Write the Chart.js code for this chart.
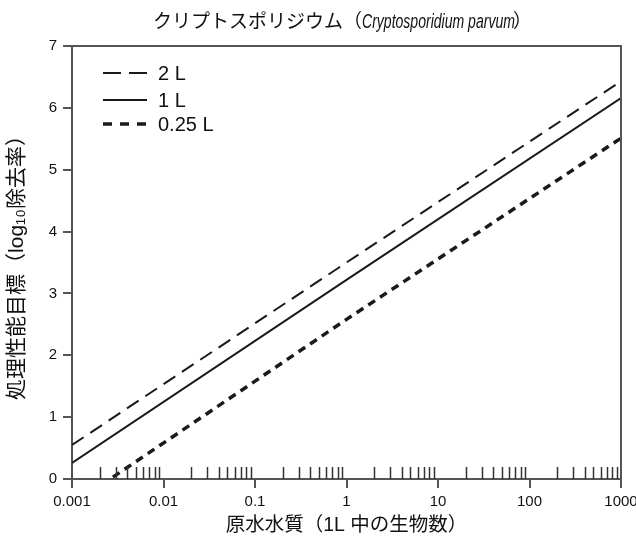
<!DOCTYPE html>
<html lang="ja">
<head>
<meta charset="utf-8">
<script src="https://cdn.jsdelivr.net/npm/chart.js@4.4.1/dist/chart.umd.min.js"></script>
<style>
  html, body { margin: 0; padding: 0; background: #ffffff; }
  #wrap { position: relative; width: 636px; height: 541px; }
  #title {
    position: absolute; left: 153px; top: 7px; text-align: left;
    font-family: 'Noto Sans CJK JP', 'Liberation Sans', sans-serif;
    font-size: 19px; color: #111; line-height: 26px; white-space: nowrap;
  }
  #title .species {
    display: inline-block; width: 151px; white-space: nowrap;
    font-family: 'Liberation Sans', sans-serif; font-style: italic; font-size: 19.5px;
    transform: scaleX(0.72); transform-origin: left center;
  }
  canvas { position: absolute; left: 0; top: 0; }
</style>
</head>
<body>
<div id="wrap">
  <canvas id="chart" width="636" height="541"></canvas>
  <div id="title">クリプトスポリジウム（<span class="species">Cryptosporidium parvum</span>）</div>
</div>
<script>
// Sample volumes shown in the legend
const volumeLabels = ['2 L', '1 L', '0.25 L'];

// Source-water concentration (organisms per litre) and log10 removal target
const conc2L = [0.001, 1, 1000];
const target2L = [0.55, 3.50, 6.43];

const conc1L = [0.001, 1, 1000];
const target1L = [0.26, 3.22, 6.16];

const conc025L = [0.0028, 1, 1000];
const target025L = [0.03, 2.58, 5.51];

// Axis ticks
const xTickValues = [0.001, 0.01, 0.1, 1, 10, 100, 1000];
const xTickLabels = ['0.001', '0.01', '0.1', '1', '10', '100', '1000'];
const yTickValues = [0, 1, 2, 3, 4, 5, 6, 7];

const FONT = "'Liberation Sans', 'Noto Sans CJK JP', sans-serif";
const AXIS_COLOR = '#555555';
const INK = '#1a1a1a';

function pts(xs, ys) { return xs.map((x, i) => ({ x: x, y: ys[i] })); }

// Frame on the top and right of the plot area
const framePlugin = {
  id: 'frame',
  afterDraw(chart) {
    const { ctx, chartArea: a } = chart;
    ctx.save();
    ctx.strokeStyle = AXIS_COLOR;
    ctx.lineWidth = 2;
    ctx.beginPath();
    ctx.moveTo(a.left, a.top);
    ctx.lineTo(a.right, a.top);
    ctx.lineTo(a.right, a.bottom);
    ctx.stroke();
    ctx.restore();
  }
};

// Minor log ticks pointing up into the plot from the x axis
const minorTickPlugin = {
  id: 'minorTicks',
  afterDatasetsDraw(chart) {
    const { ctx, chartArea: a } = chart;
    const xs = chart.scales.x;
    ctx.save();
    ctx.strokeStyle = '#333333';
    ctx.lineWidth = 1.5;
    for (let i = 0; i < xTickValues.length - 1; i++) {
      for (let m = 2; m <= 9; m++) {
        const px = Math.round(xs.getPixelForValue(m * xTickValues[i])) + 0.5;
        ctx.beginPath();
        ctx.moveTo(px, a.bottom);
        ctx.lineTo(px, a.bottom - 12);
        ctx.stroke();
      }
    }
    ctx.restore();
  }
};

// Legend drawn inside the plot area, top-left
const insideLegendPlugin = {
  id: 'insideLegend',
  afterDraw(chart) {
    const { ctx, chartArea: a } = chart;
    const rows = [27, 54, 78];
    ctx.save();
    chart.data.datasets.forEach((ds, i) => {
      const y = a.top + rows[i];
      ctx.strokeStyle = ds.borderColor;
      ctx.lineWidth = ds.borderWidth;
      ctx.setLineDash(ds.legendDash);
      ctx.beginPath();
      ctx.moveTo(a.left + 31, y);
      ctx.lineTo(a.left + 75, y);
      ctx.stroke();
      ctx.setLineDash([]);
      ctx.fillStyle = '#111';
      ctx.font = '20px ' + FONT;
      ctx.textBaseline = 'middle';
      ctx.fillText(ds.label, a.left + 86, y + 1);
    });
    ctx.restore();
  }
};

new Chart(document.getElementById('chart'), {
  type: 'line',
  data: {
    datasets: [
      { label: volumeLabels[0], data: pts(conc2L, target2L), borderColor: INK, borderWidth: 2,
        borderDash: [14, 8], legendDash: [18, 8], pointRadius: 0, tension: 0 },
      { label: volumeLabels[1], data: pts(conc1L, target1L), borderColor: INK, borderWidth: 2,
        borderDash: [], legendDash: [], pointRadius: 0, tension: 0 },
      { label: volumeLabels[2], data: pts(conc025L, target025L), borderColor: INK, borderWidth: 3.5,
        borderDash: [8, 6], legendDash: [9, 8], pointRadius: 0, tension: 0 }
    ]
  },
  options: {
    responsive: false,
    animation: false,
    layout: { padding: { top: 46, right: 15, left: 0, bottom: 0 } },
    plugins: { legend: { display: false }, title: { display: false }, tooltip: { enabled: false } },
    scales: {
      x: {
        type: 'logarithmic',
        min: 0.001, max: 1000,
        afterBuildTicks(scale) { scale.ticks = xTickValues.map(v => ({ value: v })); },
        afterFit(scale) { scale.height = 62; scale.paddingLeft = 0; scale.paddingRight = 0; },
        ticks: {
          autoSkip: false, maxRotation: 0, padding: 5, color: '#111',
          font: { family: FONT, size: 15 },
          callback(value) { const i = xTickValues.indexOf(value); return i >= 0 ? xTickLabels[i] : ''; }
        },
        grid: { drawOnChartArea: false, drawTicks: true, tickLength: 9, color: AXIS_COLOR, lineWidth: 2 },
        border: { color: AXIS_COLOR, width: 2 },
        title: { display: true, text: '原水水質（1L 中の生物数）', color: '#111',
                 font: { family: FONT, size: 19.5 }, padding: { top: 0, bottom: 4 } }
      },
      y: {
        min: 0, max: 7,
        afterBuildTicks(scale) { scale.ticks = yTickValues.map(v => ({ value: v })); },
        afterFit(scale) { scale.width = 72; },
        ticks: { padding: 6, color: '#111', font: { family: FONT, size: 15 } },
        grid: { drawOnChartArea: false, drawTicks: true, tickLength: 9, color: AXIS_COLOR, lineWidth: 2 },
        border: { color: AXIS_COLOR, width: 2 },
        title: { display: true, text: '処理性能目標（log₁₀除去率）', color: '#111',
                 font: { family: FONT, size: 21 }, padding: { top: 5, bottom: 0 } }
      }
    }
  },
  plugins: [framePlugin, minorTickPlugin, insideLegendPlugin]
});
</script>
</body>
</html>
